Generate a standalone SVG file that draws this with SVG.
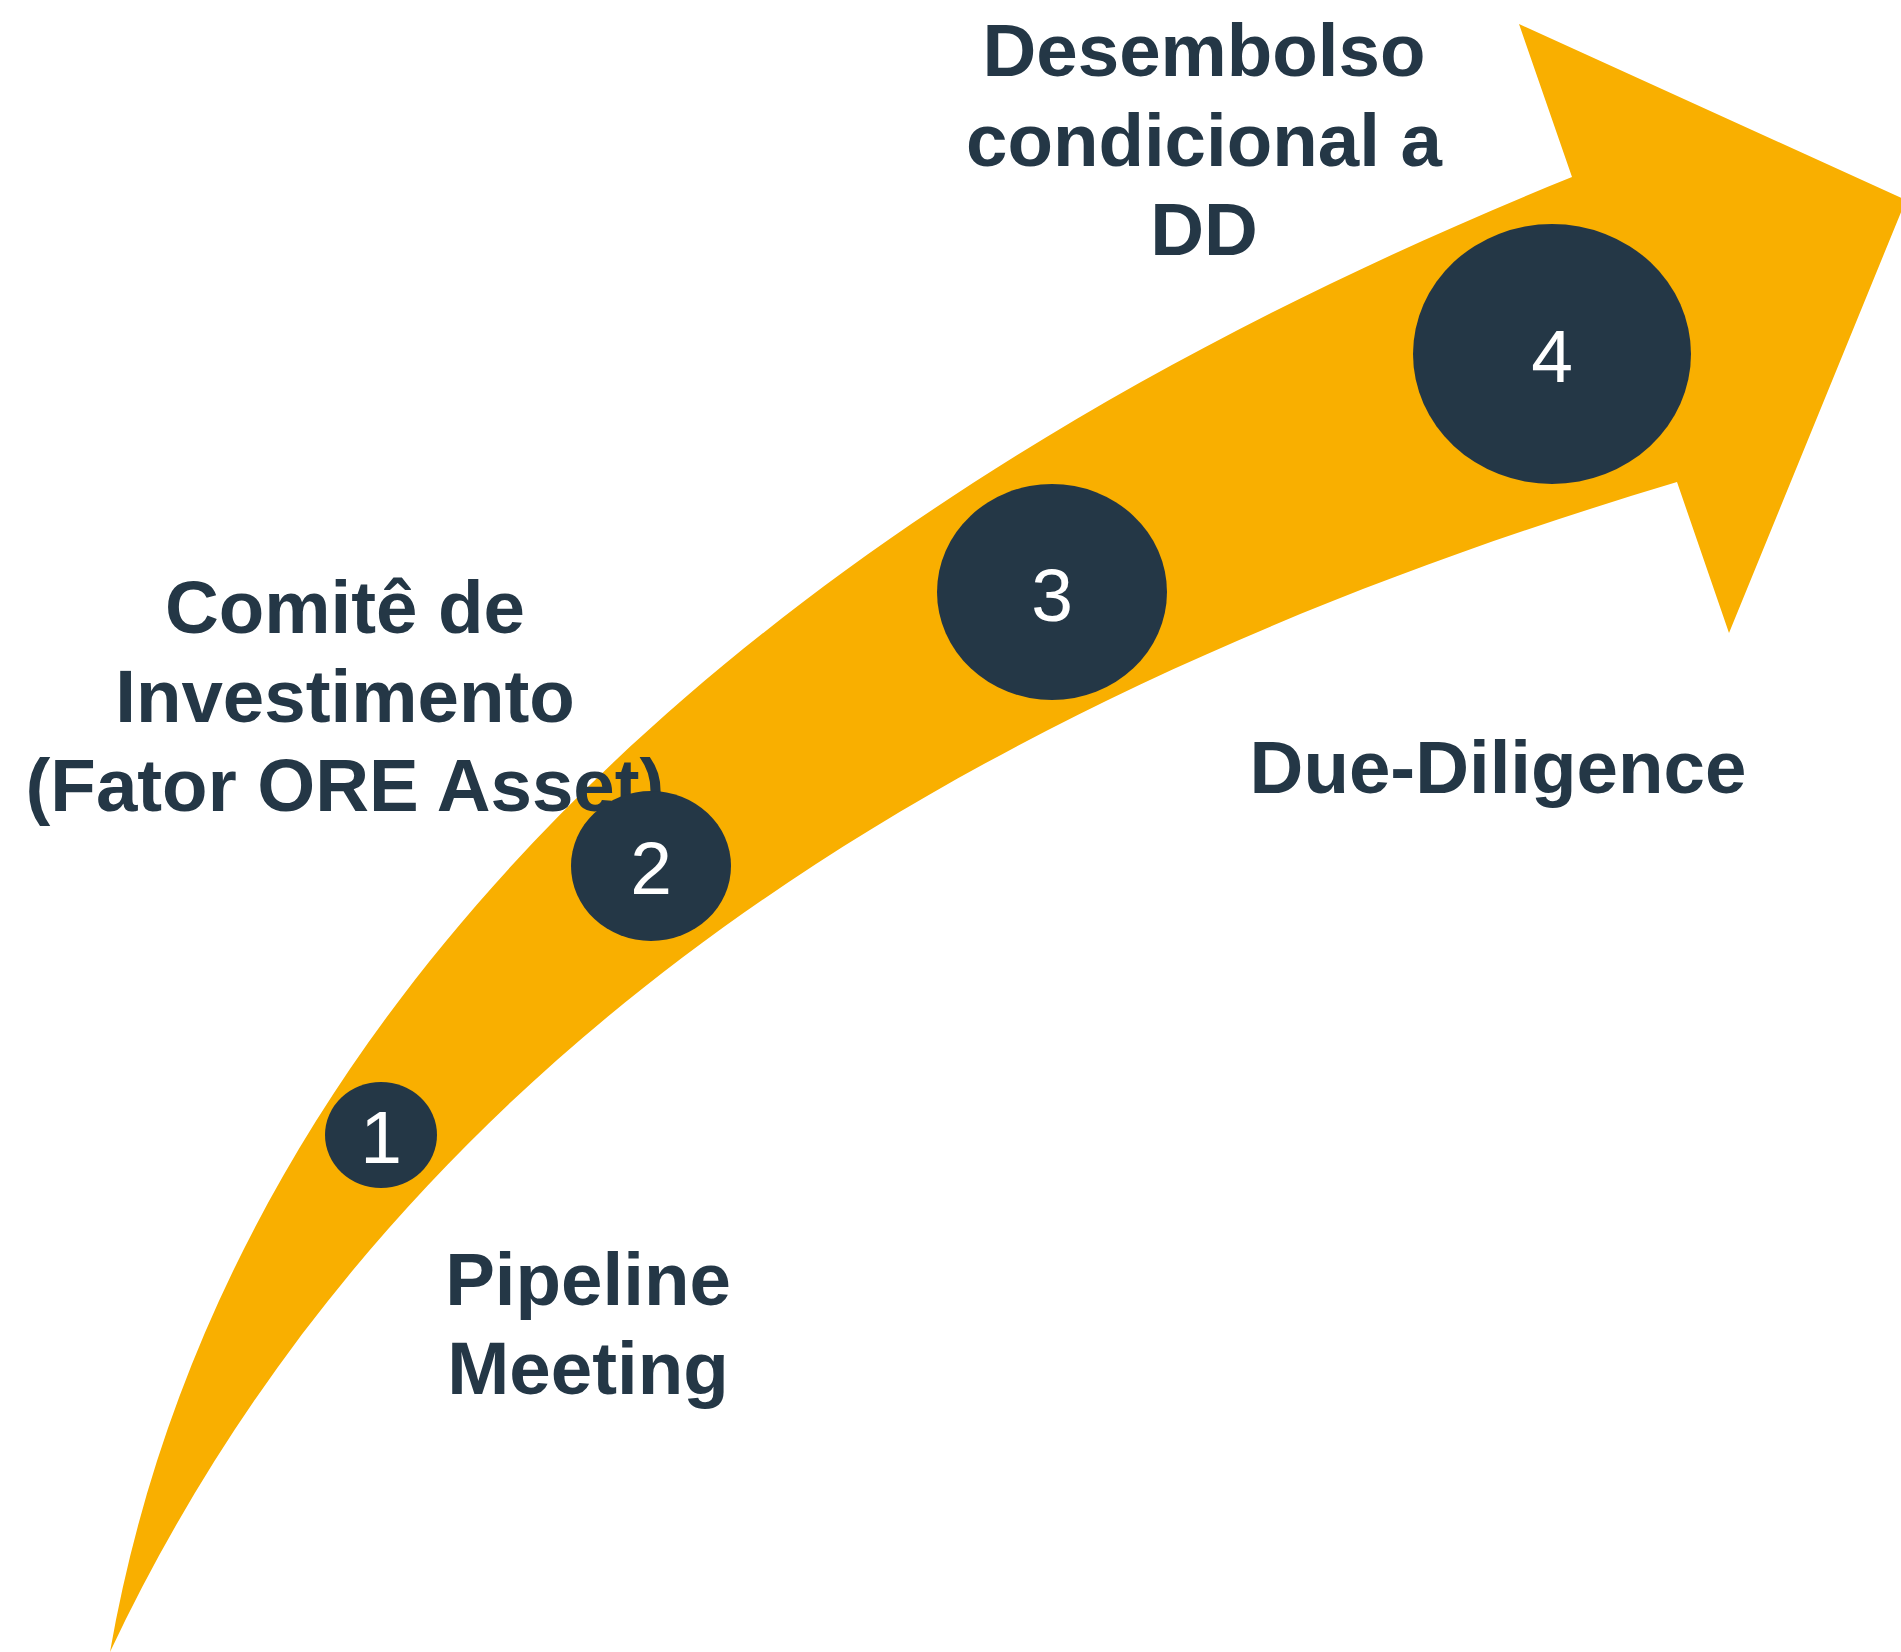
<svg xmlns="http://www.w3.org/2000/svg" width="1901" height="1652" viewBox="0 0 1901 1652">
  <style>
    .band { fill: #F9AF00; }
    .step { fill: #243746; }
    .num { font-family: "Liberation Sans", Arial, sans-serif; font-size: 75px; fill: #FFFFFF; text-anchor: middle; }
    .label { font-family: "Liberation Sans", Arial, sans-serif; font-size: 74.5px; font-weight: bold; fill: #243746; text-anchor: middle; }
  </style>
  <rect width="1901" height="1652" fill="#FFFFFF"/>

  <!-- curved arrow running from the lower-left corner up to the right -->
  <g id="connectors">
    <path class="band" d="M110,1652 C215,1051 700,530 1572,177 L1519,24 L1906,200 L1729,633 L1677,482 C913,711 380,1080 110,1652 Z"/>
  </g>

  <g id="labels">
    <text class="label" x="588" y="1305">Pipeline</text>
    <text class="label" x="588" y="1394">Meeting</text>

    <text class="label" x="345" y="633">Comitê de</text>
    <text class="label" x="345" y="722">Investimento</text>
    <text class="label" x="345" y="811">(Fator ORE Asset)</text>

    <text class="label" x="1498" y="793">Due-Diligence</text>

    <text class="label" x="1204" y="76">Desembolso</text>
    <text class="label" x="1204" y="166">condicional a</text>
    <text class="label" x="1204" y="255">DD</text>
  </g>

  <g id="step1">
    <ellipse class="step" cx="381" cy="1135" rx="56" ry="53"/>
    <text class="num" x="381" y="1163">1</text>
  </g>
  <g id="step2">
    <ellipse class="step" cx="651" cy="866" rx="80" ry="75"/>
    <text class="num" x="651" y="894">2</text>
  </g>
  <g id="step3">
    <ellipse class="step" cx="1052" cy="592" rx="115" ry="108"/>
    <text class="num" x="1052" y="621">3</text>
  </g>
  <g id="step4">
    <ellipse class="step" cx="1552" cy="354" rx="139" ry="130"/>
    <text class="num" x="1552" y="382">4</text>
  </g>
</svg>
